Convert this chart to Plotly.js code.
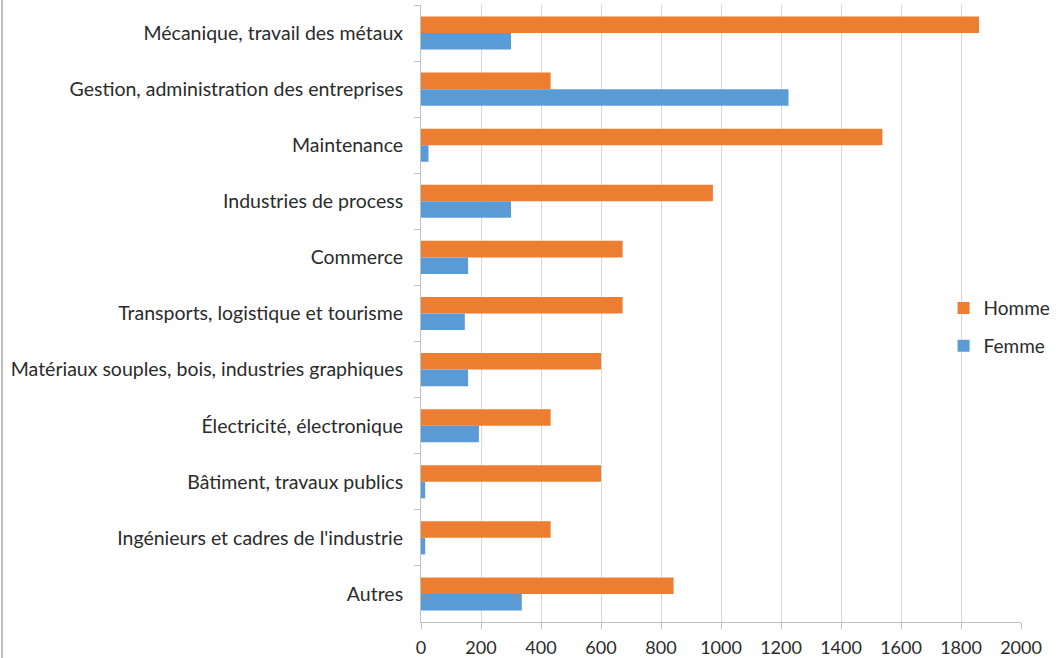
<!DOCTYPE html>
<html>
<head>
<meta charset="utf-8">
<script src="https://cdn.plot.ly/plotly-3.0.1.min.js"></script>
<style>
  html, body { margin: 0; padding: 0; background: #fff; }
  #wrap { position: relative; width: 1059px; height: 658px; }
  #chart { width: 1059px; height: 658px; }
  #border { position: absolute; left: 1px; top: 0; width: 2px; height: 658px; background: #bdbdbd; pointer-events: none; }
</style>
</head>
<body>
<div id="wrap">
  <div id="chart"></div>
  <div id="border"></div>
</div>
<script>
const categories = [
  "Mécanique, travail des métaux",
  "Gestion, administration des entreprises",
  "Maintenance",
  "Industries de process",
  "Commerce",
  "Transports, logistique et tourisme",
  "Matériaux souples, bois, industries graphiques",
  "Électricité, électronique",
  "Bâtiment, travaux publics",
  "Ingénieurs et cadres de l'industrie",
  "Autres"
];
const homme = [1860, 432, 1538, 973, 672, 672, 600, 432, 600, 432, 842];
const femme = [300, 1225, 25, 300, 157, 146, 157, 193, 14, 14, 336];
const xTicks = [0, 200, 400, 600, 800, 1000, 1200, 1400, 1600, 1800, 2000];

const FONT = "Lato, 'Liberation Sans', sans-serif";

const traces = [
  {
    type: "bar", orientation: "h", name: "Homme",
    y: categories, x: homme,
    marker: { color: "#ED7D31" },
    legendgroup: "h",
    hoverinfo: "x+y"
  },
  {
    type: "bar", orientation: "h", name: "Femme",
    y: categories, x: femme,
    marker: { color: "#5B9BD5" },
    legendgroup: "f",
    hoverinfo: "x+y"
  }
];

const layout = {
  width: 1059, height: 658,
  margin: { l: 421, r: 38, t: 5, b: 36, pad: 0, autoexpand: false },
  paper_bgcolor: "#ffffff",
  plot_bgcolor: "#ffffff",
  font: { family: FONT, size: 19, color: "#2b2b2b" },
  barmode: "group",
  bargap: 0.41,
  bargroupgap: 0,
  showlegend: true,
  legend: {
    xref: "container", yref: "container",
    x: 0.891, xanchor: "left",
    y: 0.5605, yanchor: "top",
    bgcolor: "rgba(0,0,0,0)",
    font: { family: FONT, size: 19, color: "#2b2b2b" },
    traceorder: "grouped",
    tracegroupgap: 10,
    itemwidth: 30
  },
  xaxis: {
    range: [0, 2000],
    tickvals: xTicks,
    ticktext: xTicks.map(String),
    showgrid: true, gridcolor: "#d9d9d9", gridwidth: 1,
    zeroline: false,
    showline: true, linecolor: "#bfbfbf", linewidth: 1,
    ticks: "outside", ticklen: 6, tickcolor: "#bfbfbf",
    ticklabelstandoff: 3,
    tickfont: { family: FONT, size: 18, color: "#2b2b2b" },
    fixedrange: true
  },
  yaxis: {
    type: "category",
    autorange: "reversed",
    showgrid: false,
    zeroline: false,
    showline: true, linecolor: "#bfbfbf", linewidth: 1,
    ticks: "outside", ticklen: 6, tickcolor: "#bfbfbf",
    tickson: "boundaries",
    ticklabelstandoff: 13,
    tickfont: { family: FONT, size: 19.5, color: "#2b2b2b" },
    fixedrange: true
  }
};

Plotly.newPlot("chart", traces, layout, { displayModeBar: false, staticPlot: true });
</script>
</body>
</html>
